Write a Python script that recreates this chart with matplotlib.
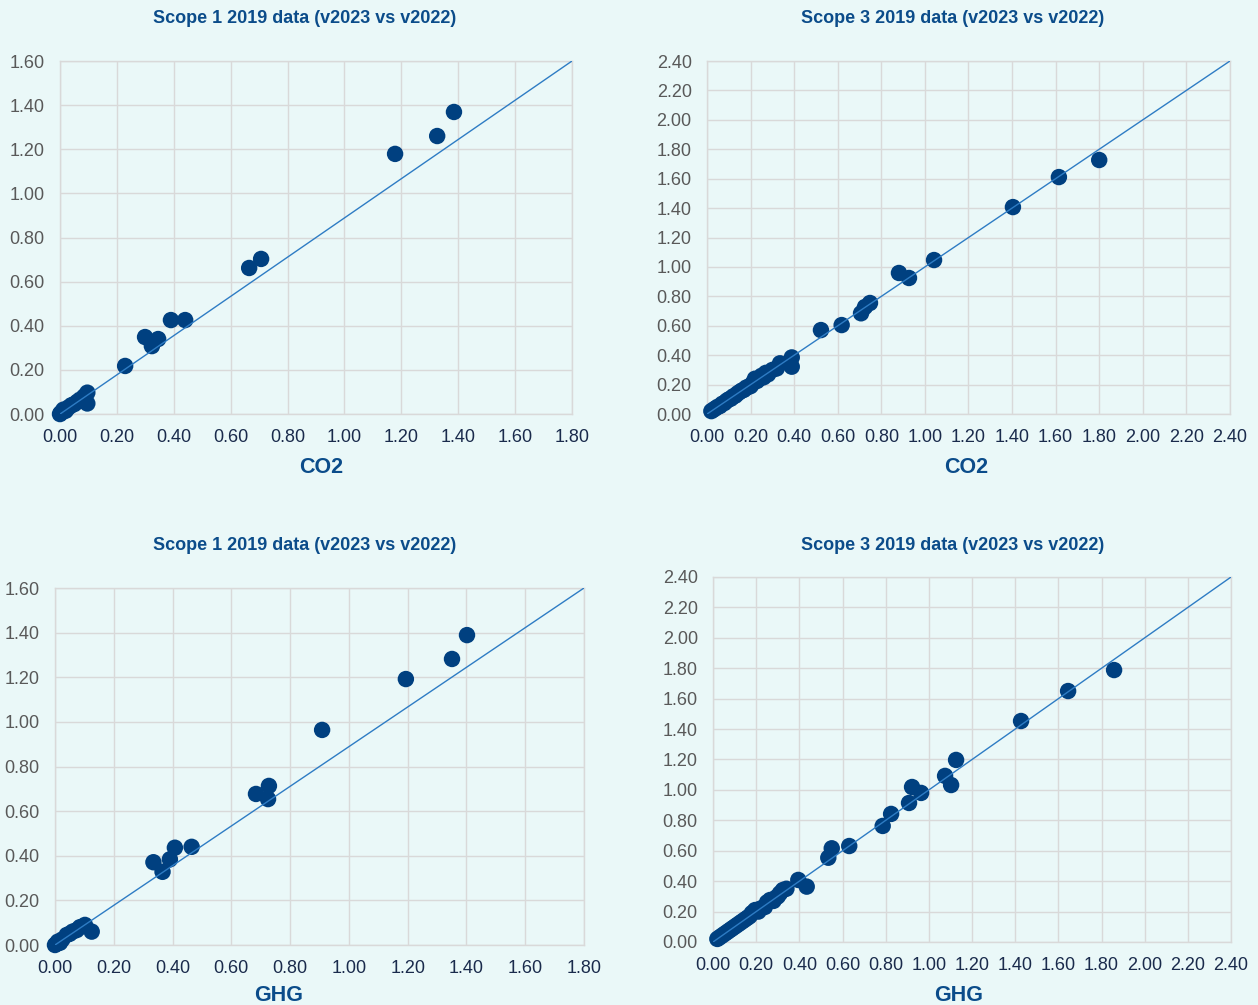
import numpy as np
from matplotlib import pyplot as plt

plt.rcParams['font.family'] = ['Liberation Sans', 'DejaVu Sans']

bg = '#EAF8F8'
dot = '#004080'
navy = '#0B4C8A'

# Scope 1 CO2 (x = v2022, y = v2023)
s1_co2_x = [0.0, 0.003, 0.008, 0.012, 0.02, 0.03, 0.04, 0.05, 0.06, 0.07, 0.085, 0.096, 0.096,
            0.229, 0.299, 0.323, 0.345, 0.390, 0.440, 0.665, 0.707, 1.178, 1.326, 1.385]
s1_co2_y = [0.0, 0.005, 0.01, 0.02, 0.015, 0.03, 0.04, 0.045, 0.055, 0.065, 0.08, 0.097, 0.048,
            0.218, 0.349, 0.308, 0.340, 0.426, 0.426, 0.662, 0.703, 1.179, 1.260, 1.369]

# Scope 3 CO2
s3_co2_x = [0.02, 0.03, 0.04, 0.05, 0.06, 0.07, 0.08, 0.09, 0.10, 0.11, 0.12, 0.13, 0.14, 0.15,
            0.16, 0.17, 0.18, 0.19, 0.20, 0.21, 0.22, 0.23, 0.24, 0.25, 0.26, 0.27, 0.28, 0.30,
            0.32, 0.335, 0.389, 0.389, 0.523, 0.618, 0.707, 0.725, 0.748, 0.881, 0.927, 1.042,
            1.404, 1.615, 1.800]
s3_co2_y = [0.02, 0.03, 0.04, 0.05, 0.055, 0.07, 0.075, 0.09, 0.10, 0.105, 0.12, 0.125, 0.14, 0.15,
            0.16, 0.165, 0.18, 0.185, 0.19, 0.21, 0.24, 0.225, 0.24, 0.26, 0.25, 0.28, 0.27, 0.30,
            0.31, 0.345, 0.322, 0.385, 0.571, 0.605, 0.685, 0.728, 0.755, 0.959, 0.925, 1.047,
            1.407, 1.611, 1.727]

# Scope 1 GHG
s1_ghg_x = [0.0, 0.005, 0.01, 0.017, 0.025, 0.04, 0.05, 0.06, 0.074, 0.085, 0.102, 0.125,
            0.335, 0.366, 0.391, 0.408, 0.465, 0.684, 0.725, 0.728, 0.909, 1.194, 1.351, 1.402]
s1_ghg_y = [0.0, 0.005, 0.015, 0.01, 0.025, 0.045, 0.05, 0.06, 0.067, 0.08, 0.09, 0.06,
            0.371, 0.328, 0.384, 0.436, 0.44, 0.677, 0.654, 0.713, 0.964, 1.192, 1.282, 1.389]

# Scope 3 GHG
s3_ghg_x = [0.02, 0.03, 0.04, 0.05, 0.06, 0.07, 0.08, 0.09, 0.10, 0.11, 0.12, 0.13, 0.14, 0.15,
            0.16, 0.17, 0.18, 0.195, 0.21, 0.22, 0.24, 0.25, 0.264, 0.28, 0.29, 0.30, 0.31, 0.324,
            0.34, 0.395, 0.434, 0.534, 0.550, 0.631, 0.786, 0.825, 0.908, 0.922, 0.964, 1.075,
            1.103, 1.126, 1.427, 1.645, 1.858]
s3_ghg_y = [0.02, 0.03, 0.04, 0.05, 0.06, 0.07, 0.08, 0.09, 0.10, 0.11, 0.12, 0.13, 0.14, 0.15,
            0.16, 0.17, 0.19, 0.21, 0.20, 0.22, 0.23, 0.26, 0.276, 0.27, 0.29, 0.30, 0.32, 0.342,
            0.35, 0.408, 0.364, 0.554, 0.616, 0.631, 0.763, 0.842, 0.914, 1.019, 0.980, 1.092,
            1.032, 1.197, 1.453, 1.650, 1.788]

panels = [
    # x, y, xmax, ymax, label, title, axes rect, title pos, xlabel pos
    (s1_co2_x, s1_co2_y, 1.8, 1.6, 'CO2', 'Scope 1 2019 data (v2023 vs v2022)',
     [0.0477, 0.588, 0.407, 0.3513], 0.2425, 0.9815, 0.2552, 0.535),
    (s3_co2_x, s3_co2_y, 2.4, 2.4, 'CO2', 'Scope 3 2019 data (v2023 vs v2022)',
     [0.562, 0.588, 0.4157, 0.3513], 0.757, 0.9815, 0.768, 0.535),
    (s1_ghg_x, s1_ghg_y, 1.8, 1.6, 'GHG', 'Scope 1 2019 data (v2023 vs v2022)',
     [0.0437, 0.0597, 0.4205, 0.3552], 0.2425, 0.4575, 0.2218, 0.0095),
    (s3_ghg_x, s3_ghg_y, 2.4, 2.4, 'GHG', 'Scope 3 2019 data (v2023 vs v2022)',
     [0.5668, 0.0627, 0.4118, 0.3632], 0.757, 0.4575, 0.7623, 0.0095),
]

fig = plt.figure(figsize=(12.58, 10.05), dpi=100)
fig.patch.set_facecolor(bg)

for x, y, xmax, ymax, lab, title, rect, tx, ty, lx, ly in panels:
    ax = fig.add_axes(rect)
    ax.set_facecolor(bg)
    ax.scatter(x, y, s=140, color=dot, edgecolors='none', zorder=3, clip_on=False)
    # diagonal reference line, corner to corner
    ax.plot([0, xmax], [0, ymax], color='#2E7CC4', lw=1.0, zorder=4)
    ax.set_xlim(0, xmax)
    ax.set_ylim(0, ymax)
    xt = np.arange(0, xmax + 0.001, 0.2)
    yt = np.arange(0, ymax + 0.001, 0.2)
    ax.set_xticks(xt)
    ax.set_yticks(yt)
    ax.set_xticklabels(['%.2f' % v for v in xt])
    ax.set_yticklabels(['%.2f' % v for v in yt])
    ax.grid(True, color='#D9D9D9', lw=1.0, zorder=0)
    ax.set_axisbelow(True)
    for sp in ax.spines.values():
        sp.set_color('#D9D9D9')
        sp.set_linewidth(1.0)
    ax.tick_params(length=0, labelsize=13)
    ax.tick_params(axis='y', labelcolor='#595959', pad=11)
    ax.tick_params(axis='x', labelcolor='#1A2B4C', pad=11)
    fig.text(tx, ty, title, ha='center', va='center', fontsize=13,
             fontweight='bold', color=navy)
    fig.text(lx, ly, lab, ha='center', va='center',
             fontsize=15.5, fontweight='bold', color=navy)

plt.savefig('out.png', dpi=100, facecolor=bg)
